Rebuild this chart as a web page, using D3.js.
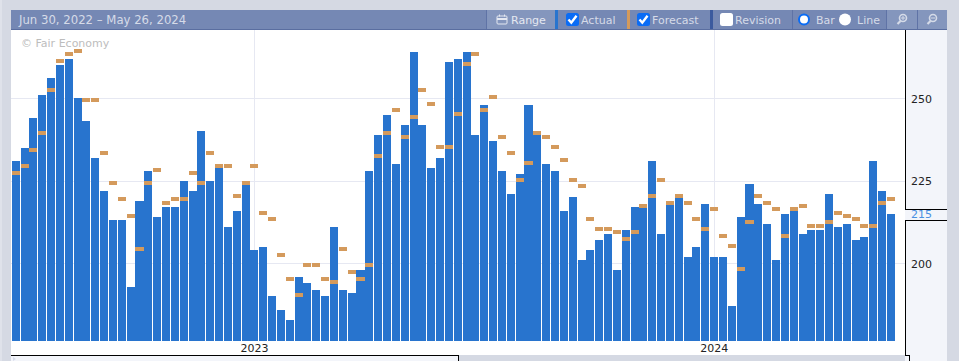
<!DOCTYPE html>
<html>
<head>
<meta charset="utf-8">
<script src="https://cdn.jsdelivr.net/npm/d3@7"></script>
<style>
html, body { margin: 0; padding: 0; background: #d5d9e3; overflow: hidden; }
svg { display: block; font-family: "DejaVu Sans", sans-serif; }
</style>
</head>
<body>
<div id="chart"></div>
<script>
// weekly readings, in thousands, oldest first
const actual = [231,235,244,251,256,260,262,250,243,232,222,213,213,193,219,228,214,217,217,225,
  222,240,225,229,211,216,224,204,205,190,186,183,196,194,192,190,211,192,191,198,
  228,239,245,230,242,264,242,229,232,261,262,264,239,248,237,228,221,227,248,239,
  230,228,216,220,201,204,207,209,198,210,217,217,231,209,218,220,202,205,218,202,
  202,187,214,224,218,212,201,215,216,209,210,210,221,211,212,207,208,231,222,215];
const forecast = [228,230,235,240,253,262,264,265,250,250,234,225,220,215,205,225,229,219,220,220,
  228,225,234,230,230,221,225,230,216,214,203,196,191,200,200,196,195,205,198,196,
  200,233,240,247,239,245,253,249,236,236,246,261,264,247,251,239,234,226,231,240,
  239,236,232,226,224,214,211,211,210,208,210,218,221,226,219,221,219,214,211,217,
  209,206,199,213,221,219,217,209,217,218,212,212,213,216,215,214,212,212,219,220];
const firstWeek = "2022-06-30";
const yTicks = [200,225,250];
const yearLabels = ["2023","2024"];
const yearBars = [27,79];
const latest = 215;
const rangeLabel = "Jun 30, 2022 – May 26, 2024";

const W = 959, H = 361;
const svg = d3.select("#chart").append("svg").attr("width", W).attr("height", H);

// panels
svg.append("rect").attr("x",0).attr("y",0).attr("width",2).attr("height",H).attr("fill","#dfe2ea");
svg.append("rect").attr("x",11).attr("y",30).attr("width",894).attr("height",325).attr("fill","#fff");
svg.append("rect").attr("x",905).attr("y",30).attr("width",42).attr("height",331).attr("fill","#f3f5fa");
svg.append("rect").attr("x",11).attr("y",355).attr("width",447).attr("height",6).attr("fill","#f3f5fa");

// scales
const weeks = actual.map((_, i) => d3.utcDay.offset(new Date(firstWeek), i * 7));
const x = d3.scaleBand().domain(weeks).range([11.7, 895]).paddingInner(0.09).paddingOuter(0);
const y = d3.scaleLinear().domain([176.5, 250]).range([341, 98.3]);
const py = d => Math.round(y(d));

// grid
const grid = svg.append("g").attr("stroke","#e6e8f2").attr("shape-rendering","crispEdges");
grid.selectAll("line.h").data(yTicks).join("line").attr("class","h")
  .attr("x1",11).attr("x2",905).attr("y1",d => py(d) + 0.5).attr("y2",d => py(d) + 0.5);
grid.selectAll("line.v").data(yearBars).join("line").attr("class","v")
  .attr("x1",i => x(weeks[i]) + x.bandwidth()/2).attr("x2",i => x(weeks[i]) + x.bandwidth()/2)
  .attr("y1",30).attr("y2",341);

svg.append("text").attr("x",21).attr("y",47).attr("font-size",11).attr("fill","#bdbdbd").text("© Fair Economy");

// bars
svg.append("g").attr("fill","#2874ce").attr("shape-rendering","crispEdges")
  .selectAll("rect").data(actual).join("rect")
  .attr("x",(d,i) => x(weeks[i]))
  .attr("y",d => py(d))
  .attr("width",x.bandwidth())
  .attr("height",d => y.range()[0] - py(d));

// forecast dashes
svg.append("g").attr("fill","#d49a5c").attr("shape-rendering","crispEdges")
  .selectAll("rect").data(forecast).join("rect")
  .attr("x",(d,i) => x(weeks[i]))
  .attr("y",d => py(d))
  .attr("width",x.bandwidth())
  .attr("height",4);

// bottom year labels
const xAxis = d3.axisBottom(x)
  .tickValues(yearBars.map(i => weeks[i]))
  .tickFormat((d,i) => yearLabels[i])
  .tickSize(0).tickPadding(0);
const gx = svg.append("g").attr("transform","translate(0,342)").call(xAxis);
gx.select(".domain").remove();
gx.selectAll("text").attr("font-size",11).attr("fill","#222").attr("font-family","DejaVu Sans").attr("dy","0.9em");

// right axis
const yAxis = d3.axisRight(y).tickValues(yTicks).tickSize(0).tickPadding(0);
const gy = svg.append("g").attr("transform","translate(911,0.6)").call(yAxis);
gy.select(".domain").remove();
gy.selectAll("text").attr("font-size",11).attr("fill","#222").attr("font-family","DejaVu Sans").attr("x",0);

svg.append("text").attr("x",911).attr("y",y(latest) + 0.6).attr("dy","0.32em").attr("font-size",11).attr("fill","#4a90e2").text(latest);

// black frame lines
const frame = svg.append("g").attr("fill","none").attr("stroke","#000").attr("shape-rendering","crispEdges");
frame.append("path").attr("d","M905.5,30V209.5H947");
frame.append("path").attr("d","M947,220.5H905.5V355.5H909.5V361");
frame.append("path").attr("d","M11,355.5H458.5V361");
svg.append("rect").attr("x",459).attr("y",356).attr("width",446).attr("height",5).attr("fill","#d5d9e3");
svg.append("path").attr("d","M13,357l3,2l-3,2z").attr("fill","#d8dcea");

// toolbar
const bar = svg.append("g").attr("font-size",11);
bar.append("rect").attr("x",11).attr("y",10).attr("width",936).attr("height",20).attr("fill","#7588b4");
bar.append("rect").attr("x",11).attr("y",29).attr("width",936).attr("height",1).attr("fill","#5a6ea0");
bar.append("text").attr("x",19).attr("y",24).attr("font-size",11.7).attr("fill","#d5dbe8").text(rangeLabel);

function sep(px, c, w) {
  bar.append("rect").attr("x",px).attr("y",10).attr("width",w || 1).attr("height",19).attr("fill",c || "#5f73a6");
}
function label(px, s, c) {
  bar.append("text").attr("x",px).attr("y",24).attr("fill",c || "#d5dbe8").text(s);
}
function check(px, on) {
  bar.append("rect").attr("x",px).attr("y",13).attr("width",13).attr("height",13).attr("rx",2.5)
    .attr("fill",on ? "#0a6cf5" : "#fff");
  if (on) bar.append("path").attr("d",`M${px+2.5},${19.5}l2.8,3.2l5.2,-7`).attr("fill","none").attr("stroke","#fff").attr("stroke-width",2.4);
}
function radio(px, on) {
  bar.append("circle").attr("cx",px).attr("cy",19.5).attr("r",on ? 5 : 6).attr("fill","#fff")
    .attr("stroke",on ? "#0a6cf5" : "none").attr("stroke-width",2);
}
bar.append("rect").attr("x",487).attr("y",10).attr("width",68).attr("height",19).attr("fill","#8496bd");
bar.append("rect").attr("x",886).attr("y",10).attr("width",61).attr("height",19).attr("fill","#8496bd");
sep(486); sep(555,"#2874ce",3); sep(627,"#d49a5c",3); sep(710,"#3b5a9e",3);
sep(792); sep(886); sep(917);
// calendar glyph
bar.append("rect").attr("x",497).attr("y",16).attr("width",10).attr("height",8).attr("rx",1).attr("fill","none").attr("stroke","#e4e8f1");
bar.append("rect").attr("x",497).attr("y",18).attr("width",10).attr("height",2).attr("fill","#e4e8f1");
bar.append("path").attr("d","M499.5,14.5v2M504.5,14.5v2").attr("stroke","#e4e8f1");
label(511,"Range","#e4e8f1");
check(566,true); label(581,"Actual");
check(637,true); label(652,"Forecast");
check(720,false); label(735,"Revision");
radio(804,true); label(816,"Bar");
radio(845,false); label(857,"Line");
// zoom glyphs
[903,933].forEach((cx, i) => {
  bar.append("circle").attr("cx",cx).attr("cy",18).attr("r",3.5).attr("fill","none").attr("stroke","#d5dbe8").attr("stroke-width",1.6);
  bar.append("path").attr("d",`M${cx-2.5},21l-3,3`).attr("stroke","#d5dbe8").attr("stroke-width",2.2);
  bar.append("path").attr("d",i === 0 ? `M${cx-2},18h4M${cx},16v4` : `M${cx-2},18h4`).attr("stroke","#d5dbe8");
});
</script>
</body>
</html>
